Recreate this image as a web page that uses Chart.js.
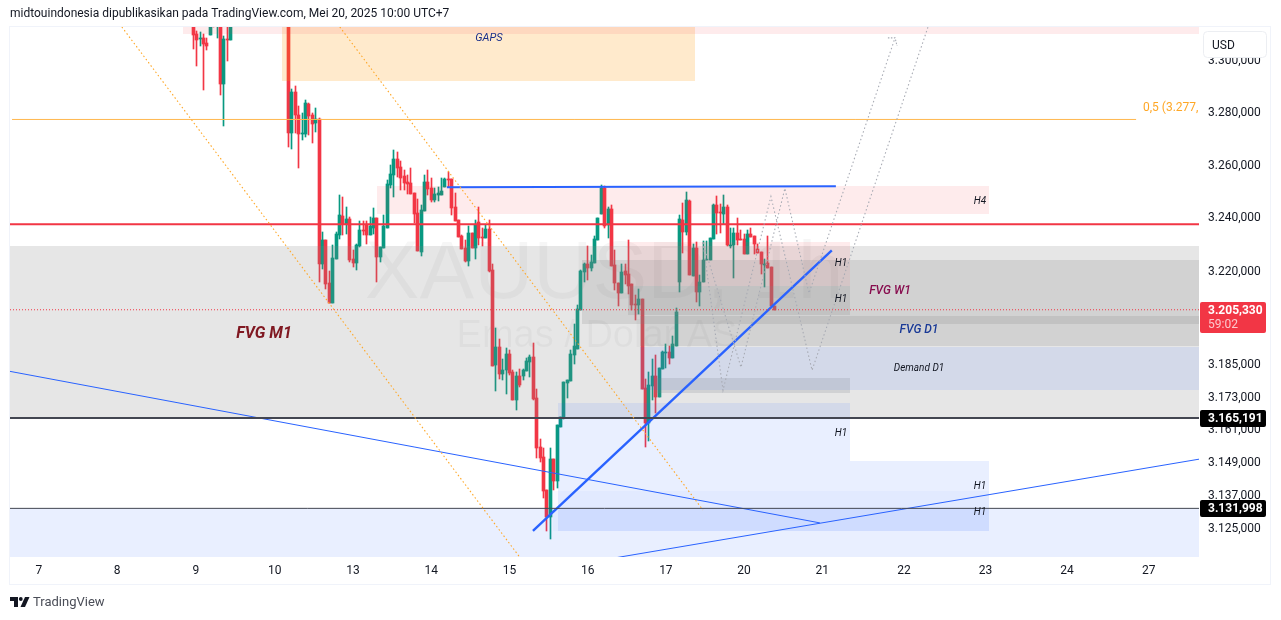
<!DOCTYPE html>
<html><head><meta charset="utf-8">
<style>html,body{margin:0;padding:0;background:#fff;overflow:hidden}canvas{display:block}</style>
<script src="https://cdn.jsdelivr.net/npm/chart.js@4"></script>
</head><body><canvas id="c" width="1281" height="620" style="width:1281px;height:620px"></canvas>
<script>
const N16=[null,null,null,null,null,null,null,null,null,null,null,null,null,null,null,null];
const opens=[3316,3310,3308.2,3308.5,3306.5,3309.6,3316,3314,3325,3290.8,3308.1,3307.7,...N16,
3325,3272,3287.6,3278.9,3271.8,3271.6,3283,3278.9,3275.8,3277.3,3222.4,3231.4,
3215.2,3207.8,3224.2,3233.3,3240.4,3237.4,3239.3,3224.2,3222.8,3229.1,
3235.2,3237,3233.3,3236.2,3239.7,3225,3228.3,3236.2,3252.2,3256,
3262.1,3259,3255.6,3253.3,3253,3249.2,3241.5,3226.9,3242.3,3253.3,
3251,3246.5,3248.4,3248.4,3251.4,3254.5,3254.5,3243.8,3238.9,3233,
3228.3,3223.5,3234,3228.3,3238.1,3232.6,3232.2,3235.5,3220.1,3184.6,
3191.3,3181.3,3182.8,3188.7,3182,3171.7,3180.6,3180.6,3182.4,3185.8,
3187.6,3172.4,3154.4,3150.7,3138.7,3128.9,3150,3142,3162,3165,
3178,3178.7,3188.3,3190.6,3205.1,3219.3,3222.4,3220.9,3222.8,3231.4,
3241.2,3251,3237,3243,3222,3215.2,3211.5,3219.7,3218.6,3214.8,
3207.4,3207,3209.3,3176.1,3163.2,3176.9,3180.6,3172.8,3183.2,3189.1,
3189.5,3187.2,3192,3215.6,3238.9,3234.4,3246.1,3217.8,3228.3,3211.9,
3215.6,3223.9,3223.9,3231.8,3244.6,3241.9,3241.2,3243.8,3229.3,3229.5,
3234,3231.9,3231.8,3226.1,3233.7,3233,3228,3226.9,3222.2,3222.8,3221.2,3206.6];
const highs=[3318,3311.1,3310.8,3310,3308.5,3318,3318,3320,3328,3309.2,3318,3320,...N16,
3330,3288.8,3289.9,3282.3,3279.6,3284.6,3283.4,3279.6,3281.5,3277.7,3234.4,3231.4,
3219.7,3229.5,3234.4,3248.4,3247.6,3243.8,3240,3227.6,3229.9,3238.6,
3238.6,3238.6,3240,3243.4,3239.7,3228.7,3240.8,3254.1,3259.8,3265.5,
3264.7,3261.3,3257.9,3256,3258.7,3249.2,3246.9,3244.6,3256,3257.9,
3254.9,3251,3251.4,3254.9,3255,3257.2,3254.5,3249.2,3238.9,3233.3,
3231.4,3236.6,3234,3238.9,3243.8,3235.9,3237,3238.9,3222.4,3198.4,
3194.3,3186.9,3191,3190.2,3182.8,3182,3183.2,3183.2,3187.2,3188.3,
3192.8,3175.8,3157.4,3154,3138.7,3154,3150,3162.4,3165.4,3178.4,
3179.1,3190.2,3199.9,3207,3220.1,3222.8,3229.1,3225.7,3233,3239.7,
3252.2,3251.8,3243.8,3244.6,3227.6,3215.2,3222.4,3222.4,3231.4,3214.8,
3210.7,3213,3209.3,3179.5,3182,3186.9,3188.3,3183.5,3189.8,3192.4,
3191.7,3195.7,3205.9,3240.8,3245.4,3249.5,3246.5,3229.9,3230.6,3218.2,
3231,3231,3232.2,3245,3248,3245,3248.4,3244.6,3236.2,3236.2,
3239.7,3235.2,3233.7,3235.2,3235.9,3233,3229.9,3226.9,3224.2,3233,3221.2,3206.6];
const lows=[3304.2,3297.6,3305.4,3288.4,3303.8,3309.6,3312.8,3308.5,3286.5,3274.6,3299.6,3307.7,...N16,
3266.6,3265.9,3272,3258.7,3269.3,3270.4,3271.2,3268.1,3272.3,3215.9,3220.5,3213,
3207.8,3207.8,3224.2,3231.8,3233.3,3233.7,3223.1,3221.2,3220.1,3228.7,
3233.3,3229.9,3233.3,3233.7,3215.6,3223.1,3228.3,3236.2,3251,3247.6,
3255.2,3250.3,3250.3,3248.8,3248.8,3237.8,3227.2,3225.3,3242.3,3248.4,
3245.8,3245.8,3246.1,3248.4,3251.4,3251.4,3240.8,3238.6,3232.6,3228,
3223.1,3221.6,3228.3,3224.2,3229.5,3229.1,3232.2,3219.3,3184.3,3175,
3179.5,3179.1,3173.9,3181,3171.7,3168,3176.5,3179.1,3182.4,3180.2,
3171.7,3150.4,3148.9,3135.7,3123.8,3120.9,3138.7,3139.4,3162,3164.7,
3172.4,3178.7,3185,3190.6,3205.1,3215.9,3216.3,3219.7,3222.8,3231.4,
3241.2,3236.2,3232.2,3221.6,3212.6,3206.6,3211.5,3214.8,3211.1,3205.1,
3201.4,3203.6,3175.8,3154.4,3156.6,3171.7,3166.9,3172.8,3183.2,3183.5,
3185,3187.2,3192,3211.9,3226.5,3233.3,3218.2,3217.8,3208.1,3206.6,
3215.6,3223.9,3223.9,3231.8,3233.7,3234,3237.4,3229.1,3228.3,3217.1,
3229.5,3231.4,3226.1,3226.1,3232.6,3226.1,3226.5,3218.9,3214,3220.9,3206.6,3205.33];
const closes=[3309.6,3307.7,3308.5,3306.1,3305.4,3315,3313.5,3318,3290.8,3308.1,3307.7,3316,...N16,
3272,3287.6,3278.9,3271.6,3272.2,3283.4,3278.5,3275.4,3277.3,3222.4,3231.4,3214.8,
3207.8,3224.6,3233.7,3240.8,3237.4,3239.3,3223.9,3222.8,3229.5,3235.2,
3234.8,3233.3,3236.6,3239.7,3225,3228.7,3236.6,3252.6,3256.4,3262.1,
3258.7,3254.9,3253,3252.6,3248.8,3241.2,3227.2,3242.7,3253.3,3250.7,
3246.5,3248.8,3249.2,3249.9,3254.5,3254.1,3243.4,3238.6,3232.6,3228,
3223.5,3234,3228.3,3237,3232.2,3232.2,3235.5,3219.7,3184.3,3191.3,
3181.3,3182.8,3188.7,3181.7,3171.7,3180.6,3177.3,3182.8,3186.1,3187.6,
3172.1,3154,3150.4,3138.3,3128.9,3150,3142,3162.4,3165.4,3178.4,
3179.1,3188.7,3192,3205.5,3219.7,3222.4,3220.9,3223.1,3231.8,3239.7,
3251,3236.6,3243,3221.6,3215.2,3211.5,3219.3,3218.2,3214.4,3207,
3207,3209.3,3175.8,3163.2,3177.3,3180.6,3172.8,3183.5,3189.5,3189.5,
3187.2,3192.4,3204.4,3239.3,3234.4,3246.5,3218.2,3228.3,3211.9,3215.9,
3223.9,3224.2,3232.2,3244.6,3241.5,3241.5,3243.8,3229.5,3229.7,3234,
3231.4,3231.5,3226.1,3233.7,3232.6,3229.9,3226.5,3222.4,3222.6,3220.9,3206.6,3205.33];

const dayLabels=["7","8","9","10","13","14","15","16","17","20","21","22","23","24","27"];
const dayBars=[-45.4,-22.4,0.8,24,47,70,93,116,139,162,185,209,233,257,281];
const priceTicks=[3300,3280,3260,3240,3220,3185,3173,3161,3149,3137,3125];

const zoneStartBar=[26.1,-3,-53.9,54,127.9,114.3,127.9,131.4,131.4,135.8,107.3,107.3,105.8,-53.9];
const zoneEndBar=[147.7,295.8,295.8,234,193.1,295.8,193.1,295.8,295.8,193.1,193.1,234,234,295.8];
const zoneHigh=[3291.9,3330,3229.1,3251.8,3230.6,3223.9,3214.4,3202.9,3191.3,3179.8,3170.6,3149.3,3138.3,3131.998];
const zoneLow=[3330,3310,3165.191,3241.2,3214.4,3199.9,3203.2,3192,3175.4,3174.3,3149.3,3123.8,3123.8,3100];

const lastPrice=3205.33, redLevel=3237.4, blackLevelA=3165.191, blackLevelB=3131.998, fibLevel=3277.2;
const xLeft=-53.9, xRight=295.8, yMax=3312.7, yMin=3114.3;
const trendTopX=[74.6,189], trendTopY=[3251.4,3251.8];
const trendUpX=[99.9,187.8], trendUpY=[3123.8,3227.6];
const thinAX=[-53.9,184.3], thinAY=[3182.4,3126.7];
const thinBX=[124.6,295.8], thinBY=[3114.1,3150];
const orangeAX=[-21,96.1], orangeAY=[3312.7,3114.1];
const orangeBX=[43.1,149.9], orangeBY=[3312.7,3131.4];
const pathAX=[149.9,155.8,169.9,182,216.1], pathAY=[3230.6,3175.4,3247.9,3182.8,3312.7];
const pathBX=[149.9,161.1,174,181.1,206.4], pathBY=[3230.6,3183.9,3251,3211.5,3308.5];
const arrowX=[204.3,206.4,207], arrowY=[3308.5,3308.5,3305.4];

const UP='#089981', DOWN='#f23645', BLUE='#2962ff', ORANGE='#ffa726', DOT='#a8abb4';
const P_PINK='rgba(242,54,69,.1)',P_GRAY='rgba(128,128,128,.2)',P_BLUE='rgba(41,98,255,.1)',P_SLATE='rgba(120,123,134,.2)',P_FAINT='rgba(41,98,255,.04)';
const zoneColors=['rgba(255,152,0,.2)',P_PINK,P_GRAY,P_PINK,P_PINK,P_GRAY,P_GRAY,P_GRAY,P_BLUE,P_SLATE,P_BLUE,P_BLUE,P_FAINT,P_BLUE];

const FONT='Roboto, "Liberation Sans", sans-serif';
const wicks=[],bodies=[],bodyColors=[];
opens.forEach((o,i)=>{ if(o===null) return;
  wicks.push({x:i,y:[lows[i],highs[i]]});
  bodies.push({x:i,y:[Math.min(o,closes[i]),Math.max(o,closes[i])]});
  bodyColors.push(closes[i]>=o?UP:DOWN);
});
const pts=(xs,ys)=>xs.map((x,k)=>({x,y:ys[k]}));
function line(xs,ys,color,width,dash,order){return {type:'line',data:pts(xs,ys),borderColor:color,borderWidth:width,borderDash:dash||[],pointRadius:0,tension:0,fill:false,order:order||5,borderCapStyle:'butt'};}

const snap={id:'snap',afterDatasetUpdate(chart,args){
  const ds=chart.data.datasets[args.index]; if(ds.type!=='bar')return;
  args.meta.data.forEach(el=>{
    el.x=Math.floor(el.x)+0.5;
    let a=Math.round(Math.min(el.y,el.base)),b=Math.round(Math.max(el.y,el.base));
    if(b<=a)b=a+1; el.y=a; el.base=b;
  });
}};
function txt(ctx,s,x,y,font,color,align){ctx.font=font;ctx.fillStyle=color;ctx.textAlign=align||'left';ctx.textBaseline='middle';ctx.fillText(s,x,y);}
const art={id:'art',
 beforeDatasetsDraw(chart){const {ctx,chartArea:a}=chart;ctx.save();ctx.beginPath();ctx.rect(a.left,a.top,a.width,a.height);ctx.clip();
   ctx.textBaseline='alphabetic';ctx.textAlign='center';ctx.fillStyle='rgba(19,23,34,.04)';
   ctx.font='82px "Liberation Sans"';ctx.fillText('XAUUSD, 1h',604,298);
   ctx.font='38px "Liberation Sans"';ctx.fillText('Emas / Dolar AS',597,347);
   ctx.restore();},
 afterDatasetDraw(chart,args){
   if(chart.data.datasets[args.index].label!=='bodies')return;
   const {ctx,chartArea:a,scales:{x,y}}=chart;ctx.save();ctx.beginPath();ctx.rect(a.left,a.top,a.width,a.height);ctx.clip();
   zoneStartBar.forEach((s,i)=>{const l=Math.round(x.getPixelForValue(s)),r=Math.round(x.getPixelForValue(zoneEndBar[i]));
     const t=Math.round(y.getPixelForValue(zoneHigh[i])),b=Math.round(y.getPixelForValue(zoneLow[i]));
     ctx.fillStyle=zoneColors[i];ctx.fillRect(l,Math.min(t,b),r-l,Math.abs(b-t));});
   ctx.restore();},
 afterDraw(chart){const {ctx,chartArea:a}=chart;ctx.save();
   ctx.beginPath();ctx.rect(a.left,a.top,a.width,a.height);ctx.clip();
   const it='italic 10px '+FONT;
   txt(ctx,'GAPS',489,38,'italic 11px '+FONT,'#1a2f8a','center');
   txt(ctx,'FVG M1',264,334,'italic bold 16px '+FONT,'#801922','center');
   txt(ctx,'FVG W1',890,291,'italic 500 12px '+FONT,'#880e4f','center');
   txt(ctx,'FVG D1',919,330,'italic 500 12px '+FONT,'#1a3a96','center');
   txt(ctx,'Demand D1',919,368,'italic 10px '+FONT,'#131722','center');
   txt(ctx,'H4',980,201,it,'#131722','center');
   [[841,263],[841,299],[841,433],[980,486],[980,512]].forEach(p=>txt(ctx,'H1',p[0],p[1],it,'#131722','center'));
   txt(ctx,'0,5 (3.277,',1143,108,'12px '+FONT,'#ffa726','left');
   ctx.restore();
   ctx.save();
   ctx.strokeStyle='#f0f3fa';ctx.lineWidth=1;ctx.strokeRect(9.5,26.5,1261,558);
   const tag=(x,y,w,h,c)=>{ctx.fillStyle=c;ctx.beginPath();ctx.roundRect(x,y,w,h,2);ctx.fill();};
   ctx.fillStyle='#fff';ctx.strokeStyle='#eceef2';ctx.beginPath();ctx.roundRect(1203.5,31.5,63,26,4);ctx.fill();ctx.stroke();
   txt(ctx,'USD',1212,45.5,'12px '+FONT,'#131722');
   tag(1200,302,66,31,'#f23645');
   txt(ctx,'3.205,330',1208,310.5,'bold 12px '+FONT,'#fff');
   txt(ctx,'59:02',1208,324.5,'12px '+FONT,'#fcc8cd');
   tag(1200,410,66,17,'#000');
   txt(ctx,'3.165,191',1208,419,'bold 12px '+FONT,'#fff');
   tag(1200,500,66,17,'#000');
   txt(ctx,'3.131,998',1208,509,'bold 12px '+FONT,'#fff');
   txt(ctx,'midtouindonesia dipublikasikan pada TradingView.com, Mei 20, 2025 10:00 UTC+7',10,14,'12px '+FONT,'#131722');
   ctx.fillStyle='#131722';
   ctx.beginPath();ctx.moveTo(10,597);ctx.lineTo(18,597);ctx.lineTo(18,607);ctx.lineTo(14,607);ctx.lineTo(14,601);ctx.lineTo(10,601);ctx.closePath();ctx.fill();
   ctx.beginPath();ctx.arc(20.8,599,1.9,0,7);ctx.fill();
   ctx.beginPath();ctx.moveTo(25,597);ctx.lineTo(29.5,597);ctx.lineTo(25,607);ctx.lineTo(20.5,607);ctx.closePath();ctx.fill();
   txt(ctx,'TradingView',33,603,'13px '+FONT,'#4a4d57');
   ctx.restore();}
};

new Chart(document.getElementById('c'),{
 data:{datasets:[
  {type:'bar',label:'wicks',data:wicks,backgroundColor:bodyColors,barThickness:1,stack:'c',order:100,borderWidth:0},
  {type:'bar',label:'bodies',data:bodies,backgroundColor:bodyColors,barThickness:3,stack:'c',order:99,borderWidth:0},
  line(orangeAX,orangeAY,ORANGE,1.1,[1.5,2.5]),
  line(orangeBX,orangeBY,ORANGE,1.1,[1.5,2.5]),
  line(pathAX,pathAY,DOT,1.1,[1.5,2.5]),
  line(pathBX,pathBY,DOT,1.1,[1.5,2.5]),
  line(arrowX,arrowY,DOT,1.1,[1.5,1.5]),
  line([xLeft+0.6,277.3],[fibLevel,fibLevel],'#ffb74d',1),
  line([xLeft,xRight],[redLevel,redLevel],DOWN,2),
  line([xLeft,xRight],[blackLevelA,blackLevelA],'#434651',2),
  line([xLeft,xRight],[blackLevelB,blackLevelB],'#434651',1),
  line([xLeft,xRight],[lastPrice,lastPrice],DOWN,1,[1,2]),
  line(thinAX,thinAY,BLUE,1),
  line(thinBX,thinBY,BLUE,1),
  line(trendTopX,trendTopY,BLUE,2),
  line(trendUpX,trendUpY,BLUE,2.4)
 ]},
 options:{responsive:false,devicePixelRatio:1,animation:false,
  layout:{padding:{left:10,top:27,right:0,bottom:0}},
  plugins:{legend:{display:false},tooltip:{enabled:false}},
  events:[],
  scales:{
   x:{type:'linear',bounds:'data',min:xLeft,max:xRight,offset:false,
      grid:{display:false,drawTicks:false},border:{display:false},
      afterBuildTicks(s){s.ticks=dayBars.map(v=>({value:v}));},
      afterFit(s){s.height=63;},
      ticks:{autoSkip:false,maxRotation:0,padding:7,color:'#131722',font:{family:'Roboto',size:12},callback(v,i){return dayLabels[i];}}},
   y:{type:'logarithmic',position:'right',bounds:'data',min:yMin,max:yMax,stacked:false,
      grid:{display:false,drawTicks:false},border:{display:false},
      afterBuildTicks(s){s.ticks=priceTicks.map(v=>({value:v}));},
      afterFit(s){s.width=82;},
      ticks:{autoSkip:false,padding:9,labelOffset:1,color:'#131722',font:{family:'Roboto',size:12},callback(v){return '3.'+String(v).slice(1)+',000';}}}
  }
 },
 plugins:[snap,art]
});
</script></body></html>
